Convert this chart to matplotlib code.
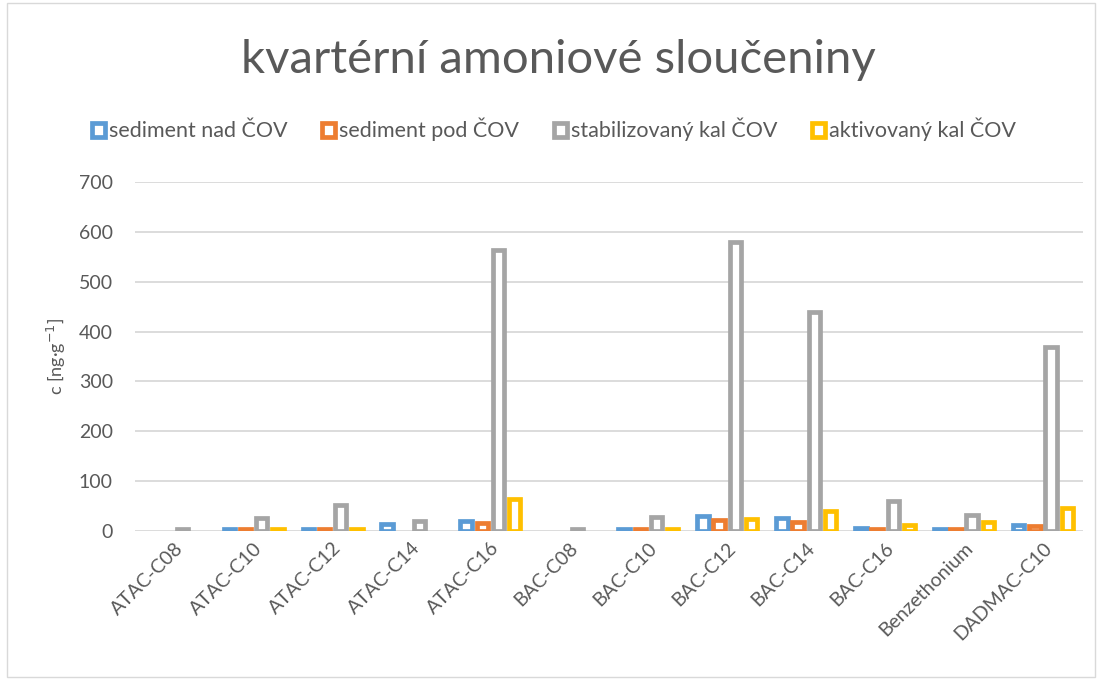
import numpy as np
import matplotlib.pyplot as plt
from matplotlib.patches import Patch, Rectangle

plt.rcParams['font.family'] = ['Lato', 'DejaVu Sans']

categories = ['ATAC-C08', 'ATAC-C10', 'ATAC-C12', 'ATAC-C14', 'ATAC-C16', 'BAC-C08',
              'BAC-C10', 'BAC-C12', 'BAC-C14', 'BAC-C16', 'Benzethonium', 'DADMAC-C10']
nan = np.nan
sed_nad = [nan, 4, 4, 13, 21, nan, 4, 30, 27, 5, 3, 12]
sed_pod = [nan, 4, 4, nan, 17, nan, 4, 23, 19, 3, 3, 10]
stab_kal = [3, 27, 52, 21, 564, 3, 29, 580, 440, 61, 33, 370]
akt_kal = [nan, 4, 4, nan, 65, nan, 3, 25, 41, 11, 19, 47]

series = [('sediment nad ČOV', sed_nad, '#5B9BD5'),
          ('sediment pod ČOV', sed_pod, '#ED7D31'),
          ('stabilizovaný kal ČOV', stab_kal, '#A5A5A5'),
          ('aktivovaný kal ČOV', akt_kal, '#FFC000')]

txt = '#595959'
fig = plt.figure(figsize=(10.99, 6.79), dpi=100)
ax = fig.add_axes([0.123, 0.218, 0.862, 0.514])

x = np.arange(len(categories))
step = 0.205
w = 0.145
for i, (name, vals, col) in enumerate(series):
    ax.bar(x + (i - 1.5) * step, vals, width=w, facecolor='white',
           edgecolor=col, linewidth=3.4, zorder=3)

ax.set_xlim(-0.5, len(categories) - 0.5)
ax.set_ylim(0, 700)
ax.set_yticks(range(0, 701, 100))
ax.grid(axis='y', color='#D9D9D9', linewidth=1.3, zorder=0)
for s in ax.spines.values():
    s.set_visible(False)
ax.tick_params(axis='y', length=0, pad=16, labelsize=14, labelcolor=txt)
ax.tick_params(axis='x', length=0, pad=6, labelsize=14, labelcolor=txt)
ax.set_xticks(x)
ax.set_xticklabels(categories, rotation=45, ha='right', rotation_mode='anchor')
ax.set_ylabel('c [ng·g$^{-1}$]', fontsize=13, color=txt, labelpad=8)

fig.text(0.508, 0.912, 'kvartérní amoniové sloučeniny', ha='center', va='center',
         fontsize=34, color=txt)

handles = [Patch(facecolor='white', edgecolor=c, linewidth=3.4, label=n) for n, _, c in series]
fig.legend(handles=handles, loc='center', bbox_to_anchor=(0.504, 0.809), ncol=4,
           frameon=False, fontsize=15.5, labelcolor=txt, handlelength=0.6,
           handleheight=0.6, handletextpad=0.2, columnspacing=1.6)

fig.patches.append(Rectangle((0.006, 0.003), 0.99, 0.993, transform=fig.transFigure,
                             fill=False, edgecolor='#D9D9D9', linewidth=1))

fig.savefig('out.png', dpi=100)
